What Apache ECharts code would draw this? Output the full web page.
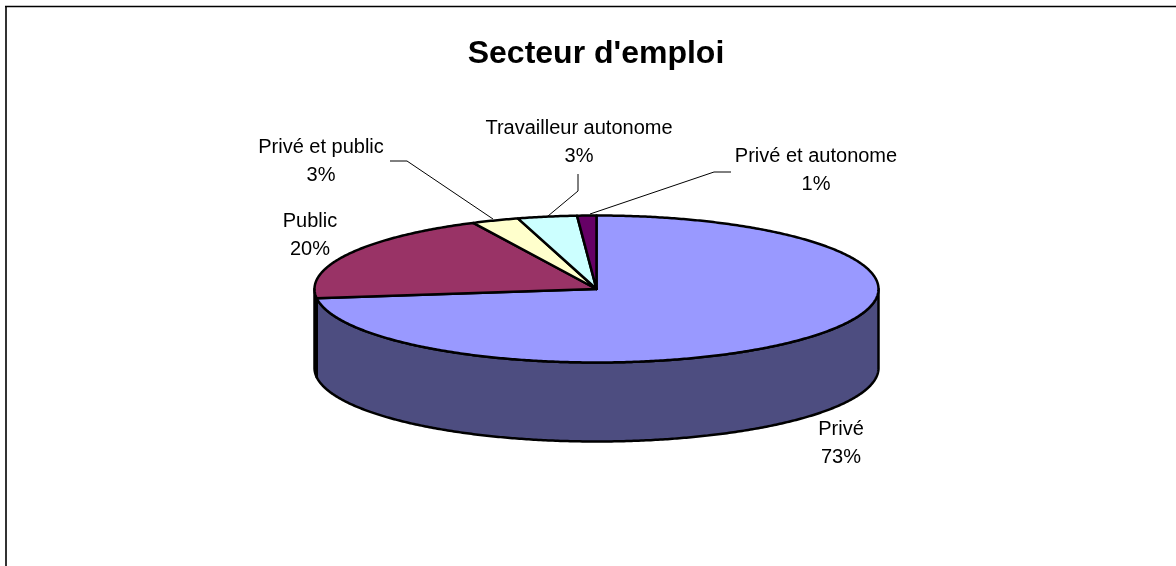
<!DOCTYPE html>
<html><head><meta charset="utf-8">
<style>html,body{margin:0;padding:0;background:#fff}#c{width:1176px;height:566px}</style>
<script src="https://cdn.jsdelivr.net/npm/echarts@6/dist/echarts.min.js"></script>
</head><body><div id="c"></div>
<script>
const categories = ["Privé", "Public", "Privé et public", "Travailleur autonome", "Privé et autonome"];
const shares = [73, 19.8, 2.7, 3.4, 1.1];
const topColors = ["#9999FF", "#993366", "#FFFFCC", "#CCFFFF", "#660066"];
const wallColors = ["#4D4D80", "#4D1A33", "#80805F", "#668080", "#330033"];

const PIE = {cx: 596.5, cy: 289, rx: 282, ry: 73.5, depth: 79};
// label block centre and optional leader polyline, by category
const labelLayout = [
  {x: 841, y: 443, leader: null},
  {x: 310, y: 235, leader: null},
  {x: 321, y: 161, leader: [[390,161],[407,161],[493,219]]},
  {x: 579, y: 142.5, leader: [[578,174],[578,191],[548,216]]},
  {x: 816, y: 170.5, leader: [[590,214],[714,172],[731,172]]}
];

const total = shares.reduce((a, b) => a + b, 0);
let run = 0;
const rows = shares.map((v, i) => { const r = [i, run, v]; run += v; return r; });

function pt(deg, dy) {
  const t = deg * Math.PI / 180;
  return [PIE.cx + PIE.rx * Math.sin(t), PIE.cy - PIE.ry * Math.cos(t) + (dy || 0)];
}
function arc(a, b, dy) {
  const out = [], n = Math.max(2, Math.ceil(Math.abs(b - a) * 2));
  for (let k = 0; k <= n; k++) out.push(pt(a + (b - a) * k / n, dy));
  return out;
}
const edge = {stroke: "#000", lineWidth: 2.5, lineJoin: "round"};

function renderSlice(params, api) {
  const i = api.value(0);
  const a = api.value(1) / total * 360;
  const b = a + api.value(2) / total * 360;
  const children = [];
  const wa = Math.max(a, 90), wb = Math.min(b, 270);
  if (wb > wa) {
    children.push({type: "polygon", shape: {points: arc(wa, wb, 0).concat(arc(wb, wa, PIE.depth))},
      style: Object.assign({fill: wallColors[i]}, edge)});
  }
  children.push({type: "polygon", shape: {points: [[PIE.cx, PIE.cy]].concat(arc(a, b, 0))},
    style: Object.assign({fill: topColors[i]}, edge)});
  return {type: "group", children};
}
function renderLabel(params, api) {
  const i = api.value(0), L = labelLayout[i];
  const children = [{type: "text", style: {
    x: L.x, y: L.y, text: categories[i] + "\n" + Math.round(api.value(2)) + "%",
    font: "20px 'Liberation Sans'", fill: "#000", align: "center", verticalAlign: "middle", lineHeight: 28}}];
  if (L.leader) children.push({type: "polyline", shape: {points: L.leader},
    style: {stroke: "#000", lineWidth: 1, fill: null}});
  return {type: "group", children};
}

const chart = echarts.init(document.getElementById("c"), null, {renderer: "canvas"});
chart.setOption({
  animation: false,
  backgroundColor: "#fff",
  title: {text: "Secteur d'emploi", left: 591, top: 33, textAlign: "center",
    textStyle: {fontFamily: "Liberation Sans", fontWeight: "bold", fontSize: 32, color: "#000"}},
  graphic: [
    {type: "line", shape: {x1: 6, y1: 6, x2: 6, y2: 566}, style: {stroke: "#333", lineWidth: 2}},
    {type: "line", shape: {x1: 5, y1: 6.5, x2: 1176, y2: 6.5}, style: {stroke: "#000", lineWidth: 1.5}}
  ],
  series: [
    {type: "custom", coordinateSystem: "none", renderItem: renderSlice, data: rows, silent: true, z: 2},
    {type: "custom", coordinateSystem: "none", renderItem: renderLabel, data: rows, silent: true, z: 3}
  ]
});
</script></body></html>
